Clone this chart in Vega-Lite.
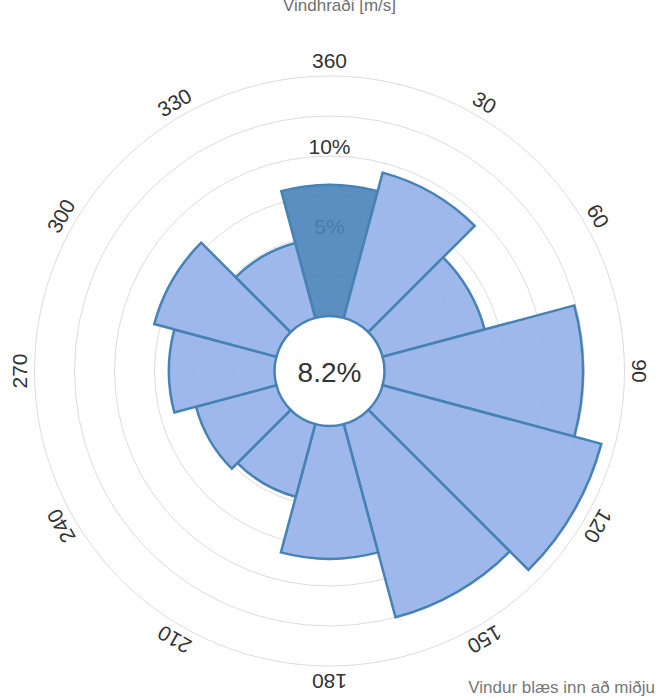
{
  "$schema": "https://vega.github.io/schema/vega-lite/v6.json",
  "width": 659,
  "height": 644,
  "autosize": "none",
  "padding": {"top": 49, "left": 0, "right": 0, "bottom": 6},
  "background": "white",
  "config": {"view": {"stroke": null}, "font": "Liberation Sans"},
  "title": {"text": "Vindhraði [m/s]", "fontSize": 17, "fontWeight": "normal", "color": "#707070", "offset": 34, "dx": 10, "frame": "group"},
  "datasets": {
    "bars": [
      {"dir": 0, "pct": 8.2},
      {"dir": 30, "pct": 9.4},
      {"dir": 60, "pct": 6.6},
      {"dir": 90, "pct": 12.4},
      {"dir": 120, "pct": 14.15},
      {"dir": 150, "pct": 12.5},
      {"dir": 180, "pct": 8.3},
      {"dir": 210, "pct": 4.7},
      {"dir": 240, "pct": 5.2},
      {"dir": 270, "pct": 6.6},
      {"dir": 300, "pct": 7.9},
      {"dir": 330, "pct": 4.85}
    ],
    "grid": [{"r": 2.5}, {"r": 5}, {"r": 7.5}, {"r": 10}, {"r": 12.5}, {"r": 15}],
    "dirs": [
      {"dir": 0, "label": "360"},
      {"dir": 30, "label": "30"},
      {"dir": 60, "label": "60"},
      {"dir": 90, "label": "90"},
      {"dir": 120, "label": "120"},
      {"dir": 150, "label": "150"},
      {"dir": 180, "label": "180"},
      {"dir": 210, "label": "210"},
      {"dir": 240, "label": "240"},
      {"dir": 270, "label": "270"},
      {"dir": 300, "label": "300"},
      {"dir": 330, "label": "330"}
    ],
    "pct": [{"v": 5, "label": "5%"}, {"v": 10, "label": "10%"}],
    "center": [{"t": "8.2%"}],
    "foot": [{"t": "Vindur blæs inn að miðju"}]
  },
  "layer": [
    {
      "data": {"name": "grid"},
      "mark": {"type": "arc", "filled": false, "stroke": "#dcdcdc", "strokeWidth": 1},
      "encoding": {
        "theta": {"datum": 0, "type": "quantitative", "scale": {"domain": [0, 360], "range": [0, 6.283185307179586]}, "stack": null},
        "theta2": {"datum": 360},
        "radius": {"field": "r", "type": "quantitative", "stack": null, "scale": {"type": "linear", "domain": [0, 15], "range": [55, 295], "zero": false}}
      }
    },
    {
      "data": {"name": "pct"},
      "mark": {"type": "text", "fontSize": 21, "color": "#333333", "align": "center", "baseline": "alphabetic", "dy": -2},
      "encoding": {
        "theta": {"datum": 0, "type": "quantitative", "stack": null},
        "radius": {"field": "v", "type": "quantitative", "stack": null},
        "text": {"field": "label"}
      }
    },
    {
      "data": {"name": "bars"},
      "transform": [
        {"calculate": "datum.dir - 15", "as": "a0"},
        {"calculate": "datum.dir + 15", "as": "a1"}
      ],
      "mark": {"type": "arc", "stroke": "#4682b4", "strokeWidth": 2.5, "fillOpacity": 0.9},
      "encoding": {
        "theta": {"field": "a0", "type": "quantitative", "stack": null},
        "theta2": {"field": "a1"},
        "radius": {"field": "pct", "type": "quantitative", "stack": null},
        "radius2": {"datum": 0},
        "fill": {"condition": {"test": "datum.dir === 0", "value": "#4983ba"}, "value": "#93b0ea"}
      }
    },
    {
      "data": {"name": "dirs"},
      "mark": {"type": "text", "fontSize": 21, "color": "#333333", "align": "center", "baseline": "middle"},
      "encoding": {
        "theta": {"field": "dir", "type": "quantitative", "stack": null},
        "radius": {"datum": 15.85, "type": "quantitative", "stack": null},
        "angle": {"field": "dir", "type": "quantitative", "scale": {"domain": [0, 360], "range": [0, 360]}},
        "text": {"field": "label"}
      }
    },
    {
      "data": {"name": "center"},
      "mark": {"type": "text", "fontSize": 28, "color": "#333333", "align": "center", "baseline": "middle", "dy": 3},
      "encoding": {"text": {"field": "t"}}
    },
    {
      "data": {"name": "foot"},
      "mark": {"type": "text", "fontSize": 17, "color": "#777777", "align": "right", "baseline": "alphabetic", "dx": -4},
      "encoding": {
        "x": {"value": "width"},
        "y": {"value": "height"},
        "text": {"field": "t"}
      }
    }
  ]
}
